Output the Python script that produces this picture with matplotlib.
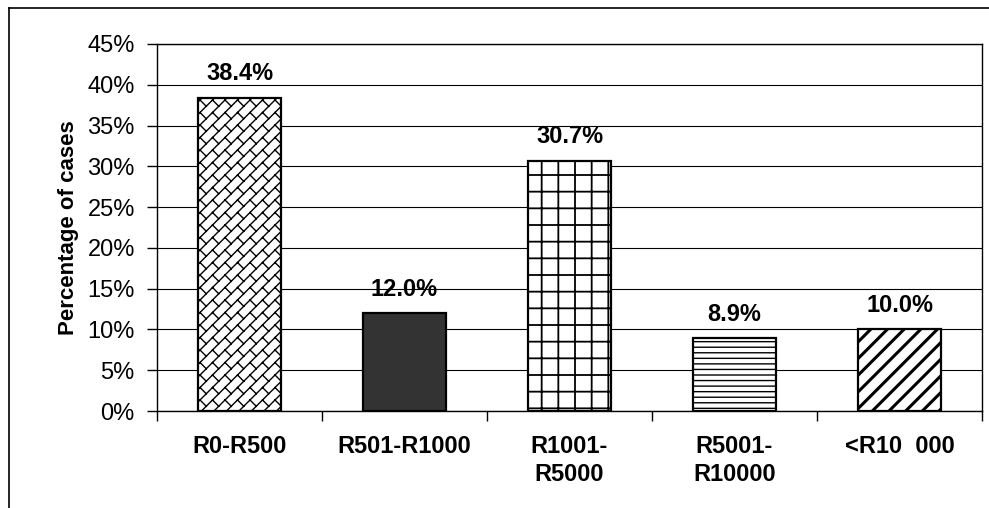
import numpy as np
import matplotlib
matplotlib.use("Agg")
import matplotlib.pyplot as plt
import matplotlib.hatch as mhatch
from matplotlib.path import Path
from matplotlib.lines import Line2D
from matplotlib.ticker import FuncFormatter, FixedLocator

plt.rcParams['font.family'] = ['Liberation Sans', 'DejaVu Sans']

categories = ["R0-R500", "R501-R1000", "R1001-\nR5000", "R5001-\nR10000", "<R10  000"]
values = [38.4, 12.0, 30.7, 8.9, 10.0]
value_labels = ["38.4%", "12.0%", "30.7%", "8.9%", "10.0%"]
y_ticks = [0, 5, 10, 15, 20, 25, 30, 35, 40, 45]
y_label = "Percentage of cases"

# ---- custom diagonal-brick hatch (used for a sentinel hatch string) ----
BRICK = "xxxxxxx"


def _brick_path(n=8):
    segs = []
    for k in range(-n, 2 * n + 1):
        c = k / n
        segs.append(((-0.3, -0.3 + c), (1.3, 1.3 + c)))
    for k in range(-n, 2 * n + 1):
        c = k / n
        for m in range(-n - 3, 2 * n + 3):
            t = m / n
            p0 = (t, t + c)
            p1 = (t + 1 / (2 * n), t + c - 1 / (2 * n))
            if -0.3 <= p0[0] <= 1.3 and -0.3 <= p0[1] <= 1.3:
                segs.append((p0, p1))
    verts = np.array(segs, dtype=float).reshape(-1, 2)
    codes = np.empty(len(verts), dtype=Path.code_type)
    codes[0::2] = Path.MOVETO
    codes[1::2] = Path.LINETO
    return Path(verts, codes)


_orig_get_path = mhatch.get_path


def _get_path(hatchpattern, density=6):
    if hatchpattern == BRICK:
        return _brick_path()
    return _orig_get_path(hatchpattern, density)


mhatch.get_path = _get_path

hatches = [BRICK, None, "+", "---", "//"]
faces = ["white", "#333333", "white", "white", "white"]
hatch_lw = [1.0, 1.0, 1.3, 1.0, 2.2]

fig = plt.figure(figsize=(9.89, 5.08), dpi=100)
ax = fig.add_axes([157/989, 1-411/508, (982-157)/989, (411-44)/508])

x = list(range(len(categories)))
bars = ax.bar(x, values, width=0.5, color=faces, edgecolor="black", linewidth=1.6, zorder=3)
for b, h, lw in zip(bars, hatches, hatch_lw):
    if h:
        b.set_hatch(h)
        if hasattr(b, "set_hatch_linewidth"):
            b.set_hatch_linewidth(lw)

for xi, v, lab in zip(x, values, value_labels):
    ax.annotate(lab, (xi, v), xytext=(0, 9), textcoords="offset points",
                ha="center", va="bottom", fontsize=17, fontweight="bold")

ax.set_xlim(-0.5, len(categories) - 0.5)
ax.set_ylim(0, 45)
ax.yaxis.set_major_locator(FixedLocator(y_ticks))
ax.yaxis.set_major_formatter(FuncFormatter(lambda v, p: f"{v:.0f}%"))
ax.grid(axis="y", color="black", linewidth=0.8, zorder=0)
ax.set_axisbelow(True)

ax.set_xticks(x)
ax.set_xticklabels(categories, fontsize=17, fontweight="bold", linespacing=1.32)
ax.set_xticks([i - 0.5 for i in range(len(categories) + 1)], minor=True)
ax.tick_params(axis="x", which="major", length=0, pad=17)
ax.tick_params(axis="x", which="minor", length=7, width=1, direction="out", color="black")
ax.tick_params(axis="y", labelsize=17, length=7, width=1, pad=9, color="black")

ax.set_ylabel(y_label, fontsize=16, fontweight="bold", labelpad=6)

for s in ["left", "bottom", "right", "top"]:
    ax.spines[s].set_color("black")
    ax.spines[s].set_linewidth(1.0)

# outer chart frame (top and left edges visible)
fig.add_artist(Line2D([8.5/989, 8.5/989], [0, 1-8/508], transform=fig.transFigure, color="black", lw=1.2))
fig.add_artist(Line2D([8.5/989, 1], [1-8/508, 1-8/508], transform=fig.transFigure, color="black", lw=1.2))

fig.savefig("out.png", dpi=100)
